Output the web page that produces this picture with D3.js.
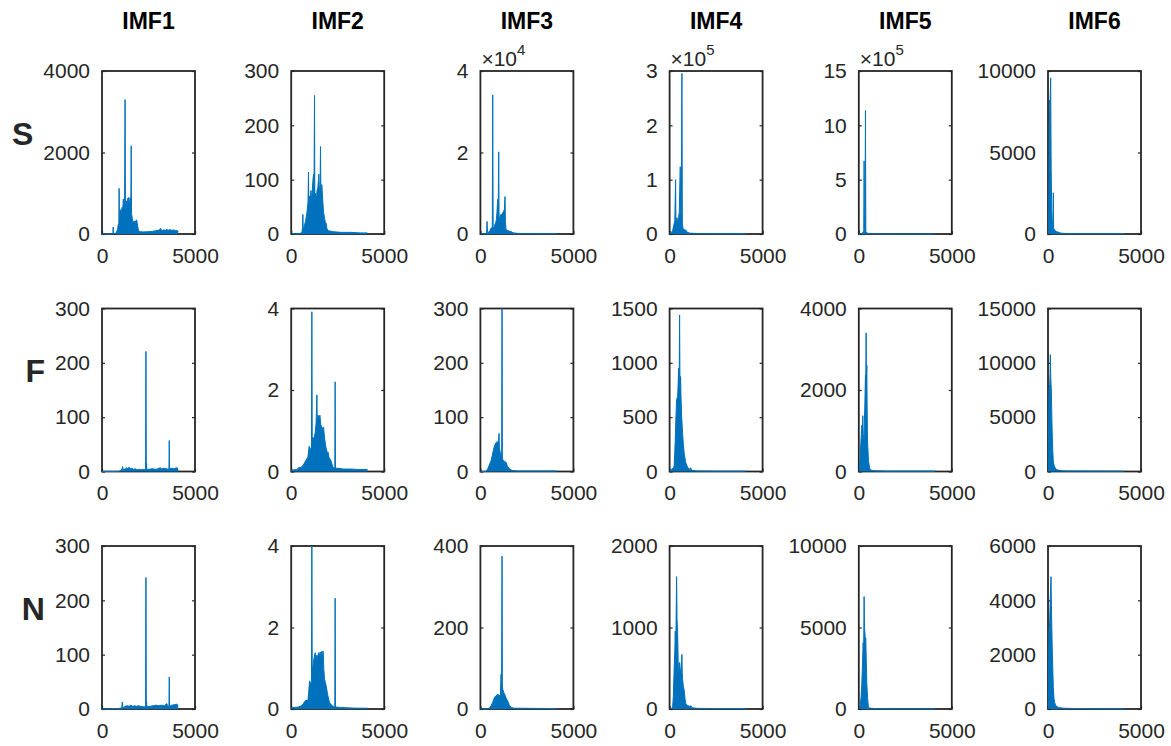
<!DOCTYPE html>
<head>
  <meta charset="utf-8">
  <style>
    body { margin: 0; background: #fff; }
    svg { background: #fff; font-family: "Liberation Sans", Arial, Helvetica, sans-serif; }
    .box { fill: none; stroke: #262626; stroke-width: 1.8px; }
    .axis path { display: none; }
    .axis line { stroke: #262626; stroke-width: 1.2px; }
    .axis text { fill: #262626; font-size: 21px; font-family: "Liberation Sans", Arial, sans-serif; }
    .spec-fill { fill: #0072bd; }
    .spec-line { fill: none; stroke: #0072bd; stroke-width: 1px; stroke-linejoin: round; }
    .title { font-weight: bold; font-size: 23px; fill: #000; text-anchor: middle; }
    .rowlab { font-weight: bold; font-size: 32px; fill: #262626; text-anchor: end; }
    .expo { font-size: 21px; fill: #262626; }
  </style>
</head>
<body>
<svg></svg>
<script src="https://d3js.org/d3.v7.min.js"></script>
<script>
// column / row names
const imfNames = ["IMF1", "IMF2", "IMF3", "IMF4", "IMF5", "IMF6"];
const rowNames = ["S", "F", "N"];

// x axis (frequency) and per panel y limits / ticks
const xTicks = [0, 5000];
const yMaxS = [4000, 300, 40000, 300000, 1500000, 10000];
const yMaxF = [300, 4, 300, 1500, 4000, 15000];
const yMaxN = [300, 4, 400, 2000, 10000, 6000];
const yTicksS = [[0, 2000, 4000], [0, 100, 200, 300], [0, 20000, 40000], [0, 100000, 200000, 300000], [0, 500000, 1000000, 1500000], [0, 5000, 10000]];
const yTicksF = [[0, 100, 200, 300], [0, 2, 4], [0, 100, 200, 300], [0, 500, 1000, 1500], [0, 2000, 4000], [0, 5000, 10000, 15000]];
const yTicksN = [[0, 100, 200, 300], [0, 2, 4], [0, 200, 400], [0, 1000, 2000], [0, 5000, 10000], [0, 2000, 4000, 6000]];
const yExpS = [0, 0, 4, 5, 5, 0];
const yExpF = [0, 0, 0, 0, 0, 0];
const yExpN = [0, 0, 0, 0, 0, 0];

// spectra: [frequency, amplitude]
const specS1 = [[0,0],[560,0],[590,5],[600,170],[615,5],[700,10],[780,40],[840,120],[880,250],[905,150],[920,1120],[938,250],[975,450],[1010,600],[1040,420],[1075,650],[1110,560],[1145,860],[1180,650],[1215,820],[1240,3300],[1258,750],[1290,600],[1307,815],[1350,700],[1390,880],[1414,860],[1450,900],[1490,650],[1525,880],[1550,700],[1570,2165],[1588,500],[1630,380],[1685,280],[1740,320],[1780,260],[1820,330],[1864,345],[1900,250],[1953,100],[2000,60],[2200,50],[2400,55],[2580,57],[2750,70],[2900,80],[3050,90],[3155,140],[3200,80],[3300,100],[3400,90],[3478,115],[3550,90],[3650,105],[3750,90],[3850,100],[3950,80],[4050,85],[4096,60]];
const specS2 = [[0,0],[500,1],[580,4],[610,12],[627,36],[645,10],[700,14],[780,25],[850,40],[905,60],[930,114],[948,45],[980,70],[1020,55],[1060,80],[1100,60],[1163,97],[1200,110],[1225,70],[1253,255],[1270,65],[1300,75],[1343,60],[1390,80],[1432,85],[1486,110],[1520,75],[1555,90],[1575,161],[1595,80],[1647,91],[1700,60],[1740,40],[1790,30],[1840,20],[1880,20],[1920,10],[2000,6],[2300,4],[2700,3],[3200,3],[3700,2],[4096,2]];
const specS3 = [[0,0],[250,100],[335,300],[358,3100],[380,300],[450,500],[520,900],[580,1500],[640,1600],[662,34150],[685,1800],[720,1500],[770,2200],[820,2800],[860,3500],[894,5600],[930,8500],[955,4500],[985,20160],[1005,4000],[1050,4200],[1100,4800],[1164,4800],[1200,5200],[1253,5600],[1290,6000],[1325,9200],[1345,3000],[1378,1070],[1450,900],[1550,700],[1650,600],[1750,300],[2000,150],[3000,100],[4096,80]];
const specS4 = [[0,3000],[100,3000],[161,6000],[220,15000],[280,25000],[322,100000],[340,20000],[370,25000],[394,30000],[430,22000],[480,30000],[520,40000],[573,124000],[600,35000],[635,40000],[662,295500],[685,20000],[720,10000],[800,8000],[880,7000],[950,3000],[1100,1500],[1500,1000],[2500,800],[4096,600]];
const specS5 = [[0,0],[100,2000],[160,5000],[200,10000],[240,20000],[268,30000],[286,672700],[305,30000],[335,20000],[358,1136000],[378,20000],[420,15000],[500,5000],[600,2000],[1000,1000],[4096,500]];
const specS6 = [[0,200],[40,1500],[70,6000],[90,8200],[110,8000],[143,9580],[170,4000],[200,1500],[240,500],[270,400],[286,2530],[300,350],[350,250],[450,150],[700,50],[1000,30],[4096,20]];

const specF1 = [[0,0],[900,0],[1000,2],[1080,4],[1110,9],[1140,3],[1250,5],[1342,7],[1400,5],[1450,8],[1520,5],[1600,6],[1700,4],[1800,5],[1900,3],[2000,4],[2100,3],[2200,4],[2345,3],[2363,221],[2380,3],[2395,15],[2410,3],[2500,4],[2700,5],[2900,4],[3000,5],[3132,7],[3200,5],[3350,6],[3450,5],[3598,4],[3616,57],[3635,4],[3700,6],[3850,5],[4028,7],[4096,5]];
const specF2 = [[0,0.03],[300,0.05],[430,0.1],[537,0.1],[620,0.15],[700,0.2],[800,0.28],[895,0.35],[968,0.62],[1000,0.5],[1038,0.56],[1090,0.6],[1110,3.92],[1130,0.85],[1180,0.8],[1240,0.85],[1290,0.95],[1340,1.2],[1381,1.88],[1400,1.2],[1450,1.38],[1500,1.3],[1543,1.38],[1590,1.15],[1630,1.11],[1690,1.05],[1738,1.09],[1800,0.8],[1864,0.6],[1950,0.45],[1989,0.47],[2030,0.35],[2133,0.27],[2250,0.1],[2345,0.08],[2363,2.2],[2380,0.08],[2500,0.08],[2800,0.06],[3200,0.06],[3600,0.05],[4096,0.05]];
const specF3 = [[0,0],[300,0],[394,5],[480,12],[573,20],[640,30],[698,39],[760,48],[841,53],[890,55],[930,51],[980,60],[1002,70],[1020,45],[1074,33],[1145,35],[1163,320],[1180,30],[1199,22],[1260,20],[1320,18],[1378,17],[1450,10],[1557,5],[1700,2],[2000,1],[4096,1]];
const specF4 = [[0,15],[100,15],[161,30],[200,15],[250,60],[304,290],[340,500],[376,660],[430,690],[460,800],[483,950],[510,700],[537,1440],[560,700],[590,875],[609,705],[650,500],[698,350],[740,250],[788,160],[870,80],[967,40],[1050,20],[1145,34],[1170,10],[1500,5],[2500,3],[4096,3]];
const specF5 = [[0,0],[40,100],[72,350],[110,700],[161,1130],[190,1000],[215,1370],[240,900],[286,770],[300,1200],[322,1580],[358,2370],[375,2000],[394,3400],[410,2200],[430,2610],[450,1500],[465,800],[519,270],[560,150],[609,40],[800,20],[1500,10],[4096,10]];
const specF6 = [[0,200],[25,3000],[54,7500],[90,8000],[110,9000],[125,10750],[150,8500],[179,7500],[205,5000],[233,3150],[260,1800],[286,865],[340,500],[412,250],[500,150],[700,80],[1000,50],[4096,30]];

const specN1 = [[0,0],[900,1],[1060,2],[1092,13],[1120,2],[1200,4],[1253,5],[1350,6],[1450,5],[1550,7],[1650,5],[1750,6],[1850,5],[1950,6],[2058,5],[2200,4],[2345,4],[2363,242],[2380,4],[2395,15],[2410,4],[2595,5],[2750,6],[2900,7],[3050,6],[3200,7],[3350,6],[3490,10],[3520,6],[3598,5],[3616,59],[3635,5],[3750,7],[3900,8],[4028,9],[4096,6]];
const specN2 = [[0,0.03],[400,0.05],[537,0.08],[640,0.12],[716,0.18],[800,0.22],[895,0.2],[940,0.4],[985,0.69],[1050,0.6],[1090,0.7],[1110,4.2],[1130,0.9],[1217,1.22],[1250,1.3],[1289,1.38],[1330,1.2],[1378,1.32],[1420,1.25],[1468,1.38],[1510,1.3],[1557,1.4],[1600,1.3],[1647,1.42],[1680,1.25],[1718,1.42],[1750,1.0],[1790,0.73],[1840,0.65],[1880,0.57],[1960,0.35],[2058,0.16],[2200,0.08],[2345,0.05],[2363,2.72],[2380,0.05],[2600,0.04],[3000,0.03],[3500,0.02],[4096,0.02]];
const specN3 = [[0,0],[400,1],[500,3],[573,8],[650,15],[752,28],[820,32],[930,36],[1000,34],[1074,32],[1110,85],[1140,60],[1163,375],[1180,60],[1199,49],[1260,40],[1325,34],[1400,25],[1468,20],[1550,10],[1647,4],[1800,2],[4096,1]];
const specN4 = [[0,10],[100,10],[161,20],[200,150],[250,528],[280,700],[304,955],[330,700],[376,1625],[400,1100],[430,955],[460,600],[483,365],[510,500],[537,570],[580,450],[620,500],[662,670],[680,450],[698,365],[740,280],[788,225],[830,120],[877,60],[950,45],[1100,30],[1145,40],[1200,15],[1500,8],[2500,5],[4096,5]];
const specN5 = [[0,0],[40,80],[72,200],[120,700],[161,1520],[200,2800],[233,4060],[260,3500],[286,6900],[305,5000],[322,4770],[350,4300],[376,4360],[400,3000],[430,1620],[470,700],[519,100],[600,50],[1000,20],[4096,10]];
const specN6 = [[0,100],[25,1500],[54,2800],[90,3200],[120,4000],[161,4870],[190,3500],[233,2070],[260,1400],[286,790],[320,400],[358,240],[420,120],[550,60],[800,30],[1500,15],[4096,10]];

// tables built from the arrays above
const spectra = [
  [specS1, specS2, specS3, specS4, specS5, specS6],
  [specF1, specF2, specF3, specF4, specF5, specF6],
  [specN1, specN2, specN3, specN4, specN5, specN6]
];
const yMax = [yMaxS, yMaxF, yMaxN];
const yTicks = [yTicksS, yTicksF, yTicksN];
const yExp = [yExpS, yExpF, yExpN];

let width = 1171, height = 746;
let svg = d3.select('svg').attr('width', width).attr('height', height);

let panelW = 93, panelH = 163;
let left0 = 102, colStep = 189.2;
let top0 = 71, rowStep = 237.5;

let x = d3.scaleLinear().domain([0, 5000]).range([0, panelW]);

rowNames.forEach(function(rowName, r) {
  imfNames.forEach(function(imf, c) {
    let x0 = left0 + c * colStep;
    let y0 = top0 + r * rowStep;
    let g = svg.append('g').attr('transform', 'translate(' + x0 + ',' + y0 + ')');

    let y = d3.scaleLinear().domain([0, yMax[r][c]]).range([panelH, 0]);
    let ex = yExp[r][c];
    let fmt = ex ? function(d) { return d3.format('d')(d / Math.pow(10, ex)); } : d3.format('d');

    // box
    g.append('rect').attr('class', 'box').attr('width', panelW).attr('height', panelH);

    // axes, ticks pointing inward like matlab
    let yAxisG = g.append('g').attr('class', 'axis')
      .call(d3.axisLeft(y).tickValues(yTicks[r][c]).tickSize(-3).tickSizeOuter(0).tickPadding(12).tickFormat(fmt));
    g.append('g').attr('class', 'axis').attr('transform', 'translate(' + panelW + ',0)')
      .call(d3.axisRight(y).tickValues(yTicks[r][c]).tickSize(-3).tickSizeOuter(0).tickFormat(''));
    g.append('g').attr('class', 'axis').attr('transform', 'translate(0,' + panelH + ')')
      .call(d3.axisBottom(x).tickValues(xTicks).tickSize(-3).tickSizeOuter(0).tickPadding(14).tickFormat(d3.format('d')));

    // spectrum
    let clipId = 'clip' + r + '_' + c;
    g.append('clipPath').attr('id', clipId).append('rect')
      .attr('x', 0).attr('y', 0).attr('width', panelW).attr('height', panelH + 1);
    let plot = g.append('g').attr('clip-path', 'url(#' + clipId + ')');
    let area = d3.area().x(function(d) { return x(d[0]); }).y0(y(0)).y1(function(d) { return y(d[1]); });
    let line = d3.line().x(function(d) { return x(d[0]); }).y(function(d) { return y(d[1]); });
    plot.append('path').datum(spectra[r][c]).attr('class', 'spec-fill').attr('d', area);
    plot.append('path').datum(spectra[r][c]).attr('class', 'spec-line').attr('d', line);

    // x10^n exponent label
    if (ex) {
      let t = g.append('text').attr('class', 'expo').attr('x', 1).attr('y', -5);
      t.append('tspan').text('\u00d710');
      t.append('tspan').attr('dy', -11).style('font-size', '15px').text(ex);
    }

    if (r == 0) {
      svg.append('text').attr('class', 'title')
        .attr('x', x0 + panelW / 2).attr('y', 29).text(imf);
    }
    if (c == 0) {
      let bb = yAxisG.node().getBBox();
      g.append('text').attr('class', 'rowlab')
        .attr('x', bb.x - 10).attr('y', panelH / 2 - 8).text(rowName);
    }
  });
});
</script>
</body>
